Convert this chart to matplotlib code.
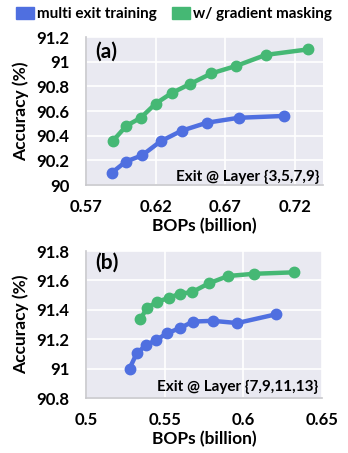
import numpy as np
import matplotlib
matplotlib.use("Agg")
import matplotlib.pyplot as plt
from matplotlib.patches import Patch

plt.rcParams['font.family'] = ['Lato', 'DejaVu Sans']
plt.rcParams['font.weight'] = 'bold'

# panel (a): exit @ layer {3,5,7,9}
a_base_x = [0.5886, 0.5986, 0.6102, 0.6236, 0.6386, 0.6567, 0.6795, 0.7124]
a_base_y = [90.10, 90.19, 90.24, 90.355, 90.44, 90.505, 90.545, 90.56]
a_mask_x = [0.5895, 0.599, 0.6093, 0.620, 0.6314, 0.6448, 0.660, 0.6776, 0.699, 0.7295]
a_mask_y = [90.36, 90.48, 90.545, 90.66, 90.745, 90.82, 90.905, 90.965, 91.055, 91.10]

# panel (b): exit @ layer {7,9,11,13}
b_base_x = [0.5277, 0.5323, 0.5383, 0.5447, 0.5515, 0.5596, 0.5681, 0.5806, 0.5962, 0.6211]
b_base_y = [91.00, 91.105, 91.16, 91.195, 91.24, 91.275, 91.32, 91.325, 91.31, 91.37]
b_mask_x = [0.5345, 0.5387, 0.5451, 0.5526, 0.5596, 0.5674, 0.5781, 0.5904, 0.6068, 0.6323]
b_mask_y = [91.335, 91.41, 91.455, 91.48, 91.51, 91.52, 91.58, 91.63, 91.645, 91.655]

blue = '#4f6fe0'
green = '#45b874'
labels = ['multi exit training', 'w/ gradient masking']

fig = plt.figure(figsize=(3.48, 4.53), dpi=100)
ax1 = fig.add_axes([0.247, 0.5916, 0.681, 0.3267])
ax2 = fig.add_axes([0.247, 0.1214, 0.678, 0.3245])

panels = [
    (ax1, a_base_x, a_base_y, a_mask_x, a_mask_y, [0.57, 0.62, 0.67, 0.72], (0.57, 0.74),
     [90, 90.2, 90.4, 90.6, 90.8, 91, 91.2], '(a)', 'Exit @ Layer {3,5,7,9}', 0.90, 0.055),
    (ax2, b_base_x, b_base_y, b_mask_x, b_mask_y, [0.5, 0.55, 0.6, 0.65], (0.5, 0.65),
     [90.8, 91, 91.2, 91.4, 91.6, 91.8], '(b)', 'Exit @ Layer {7,9,11,13}', 0.92, 0.075),
]

for ax, bx, by, mx, my, xt, xl, yt, tag, note, ty, ny in panels:
    ax.set_facecolor('#e9e9f1')
    ax.grid(True, color='white', lw=1.2)
    ax.set_axisbelow(True)
    for s in ['top', 'right']:
        ax.spines[s].set_visible(False)
    for s in ['left', 'bottom']:
        ax.spines[s].set_color('#c8c8cc')
        ax.spines[s].set_linewidth(1.2)
    ax.plot(bx, by, '-o', color=blue, lw=3.2, ms=7.5)
    ax.plot(mx, my, '-o', color=green, lw=3.2, ms=7.5)
    ax.set_xlim(*xl)
    ax.set_ylim(yt[0], yt[-1])
    ax.set_xticks(xt)
    ax.set_xticklabels(['%g' % v for v in xt])
    ax.set_yticks(yt)
    ax.set_yticklabels(['%g' % v for v in yt])
    ax.tick_params(length=0, labelsize=12, pad=10)
    ax.tick_params(axis='y', pad=12)
    ax.set_xlabel('BOPs (billion)', fontsize=12.5, fontweight='bold', labelpad=2)
    ax.set_ylabel('Accuracy (%)', fontsize=12.5, fontweight='bold', labelpad=5)
    ax.text(0.04, ty, tag, transform=ax.transAxes, fontsize=15, fontweight='bold',
            ha='left', va='center')
    ax.text(0.985, ny, note, transform=ax.transAxes, fontsize=11, fontweight='bold',
            ha='right', va='center')

handles = [Patch(color=blue), Patch(color=green)]
fig.legend(handles, labels, loc='upper center', bbox_to_anchor=(0.5, 1.015), ncol=2,
           frameon=False, fontsize=11, handlelength=1.2, handleheight=0.8,
           handletextpad=0.2, columnspacing=1.0)

fig.savefig('out.png', dpi=100)
